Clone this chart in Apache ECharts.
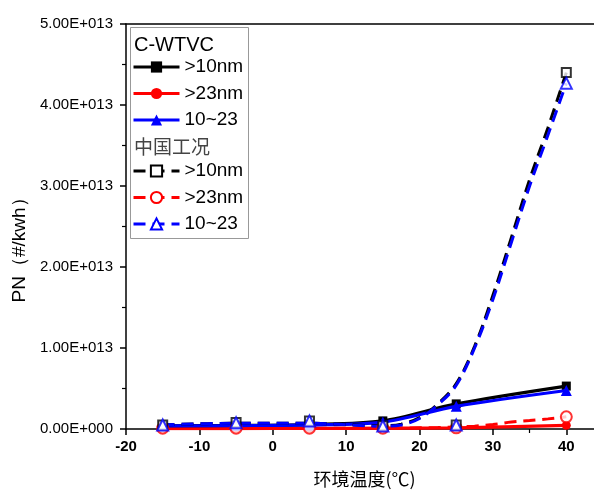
<!DOCTYPE html>
<html>
<head>
<meta charset="utf-8">
<script src="https://cdn.jsdelivr.net/npm/echarts@6/dist/echarts.min.js"></script>
<style>html,body{margin:0;padding:0;background:#fff}#c{width:594px;height:494px}</style>
</head>
<body>
<div id="c"></div>
<script>
// ---- data ----
const temps = [-15, -5, 5, 15, 25, 40];
// C-WTVC (solid lines with filled markers)
const wtvcGt10 = [0.40e12, 0.45e12, 0.55e12, 1.00e12, 3.10e12, 5.30e12];
const wtvcGt23 = [0.05e12, 0.05e12, 0.08e12, 0.10e12, 0.15e12, 0.45e12];
const wtvc10to23 = [0.38e12, 0.42e12, 0.50e12, 0.85e12, 2.80e12, 4.75e12];
// China cycle markers (hollow)
const chnGt10 = [0.50e12, 0.80e12, 1.00e12, 0.40e12, 0.50e12, 4.40e13];
const chnGt23 = [0.10e12, 0.10e12, 0.10e12, 0.10e12, 0.15e12, 1.50e12];
const chn10to23 = [0.50e12, 0.78e12, 1.00e12, 0.37e12, 0.50e12, 4.27e13];
// China cycle fitted (B-spline) dashed curves
const curveTemps = [-15, -5, 5, 15, 17.5, 20, 22.5, 25, 27.5, 30, 32.5, 35, 37.5, 40];
const curveGt10 = [0.50e12, 0.70e12, 0.70e12, 0.40e12, 0.60e12, 1.40e12, 3.10e12, 5.60e12, 1.02e13, 1.65e13, 2.36e13, 3.08e13, 3.72e13, 4.40e13];
const curveGt23 = [0.10e12, 0.10e12, 0.10e12, 0.10e12, 0.12e12, 0.15e12, 0.18e12, 0.25e12, 0.35e12, 0.55e12, 0.85e12, 1.05e12, 1.25e12, 1.50e12];
const curve10to23 = [0.50e12, 0.70e12, 0.70e12, 0.35e12, 0.50e12, 1.30e12, 3.00e12, 5.40e12, 1.00e13, 1.60e13, 2.30e13, 3.00e13, 3.63e13, 4.27e13];
const legendLabels = {a10: '>10nm', a23: '>23nm', a1023: '10~23', b10: '>10nm', b23: '>23nm', b1023: '10~23'};
const groupTitles = ['C-WTVC', '中国工况'];
const xTicksMin = -20, xTicksMax = 45, yMax = 5e13;

function pairs(xs, ys) { return xs.map((x, i) => [x, ys[i]]); }
function sci(v) {
  if (v === 0) return '0.00E+000';
  const e = Math.floor(Math.log10(v) + 1e-9);
  const m = v / Math.pow(10, e);
  return m.toFixed(2) + 'E+' + String(e).padStart(3, '0');
}

const BLACK = '#000000', RED = '#ff0000', BLUE = '#0000ff';
const dash = [12, 7];

function solid(name, color, symbol, size, ys, z) {
  return {name, type: 'line', data: pairs(temps, ys), smooth: 0.3, symbol, symbolSize: size,
    lineStyle: {color, width: 3.2}, itemStyle: {color}, z};
}
function dashed(name, color, symbol, ys, z) {
  return {name, type: 'line', data: pairs(curveTemps, ys), smooth: 0.35, symbol, symbolSize: 9, showSymbol: false,
    lineStyle: {color, width: 3, type: dash}, itemStyle: {color, borderWidth: 1.2}, z};
}
function marks(name, color, symbol, size, ys, z) {
  return {name, type: 'scatter', data: pairs(temps, ys), symbol, symbolSize: size,
    itemStyle: {color, borderColor: color, borderWidth: 1.2}, z};
}

const legendCommon = {
  orient: 'vertical', left: 132, padding: 0,
  itemWidth: 46, itemHeight: 14, itemGap: 7.5, selectedMode: false,
  lineStyle: {width: 3},
  formatter: n => legendLabels[n],
  textStyle: {fontFamily: 'Liberation Sans', fontSize: 19, lineHeight: 19, color: '#000'}
};

const chart = echarts.init(document.getElementById('c'), null, {renderer: 'canvas'});
chart.setOption({
  animation: false,
  backgroundColor: '#fff',
  grid: {left: 126, top: 24, bottom: 65, width: 477, containLabel: false, outerBoundsMode: 'none'},
  xAxis: [{
    type: 'value', min: xTicksMin, max: xTicksMax, interval: 10,
    name: '环境温度(℃)', nameLocation: 'middle', nameGap: 41,
    nameTextStyle: {fontFamily: 'Noto Sans CJK SC', fontSize: 18, color: '#000'},
    axisLine: {show: true, onZero: false, lineStyle: {color: '#000', width: 1.5}},
    axisTick: {show: true, inside: false, length: 6, lineStyle: {color: '#000', width: 1.5}},
    minorTick: {show: true, splitNumber: 2, length: 4, lineStyle: {color: '#000', width: 1.2}},
    axisLabel: {showMaxLabel: false, margin: 10, fontFamily: 'Liberation Sans', fontSize: 15, fontWeight: 'bold', color: '#000'},
    splitLine: {show: false}
  }, {
    type: 'value', position: 'top', min: xTicksMin, max: xTicksMax,
    axisLine: {show: true, onZero: false, lineStyle: {color: '#000', width: 1.5}},
    axisTick: {show: false}, axisLabel: {show: false}, splitLine: {show: false}
  }],
  yAxis: {
    type: 'value', min: 0, max: yMax, interval: 1e13,
    name: 'PN（#/kwh）', nameLocation: 'middle', nameGap: 93,
    nameTextStyle: {fontFamily: 'Liberation Sans', fontSize: 19, color: '#000', padding: [0, 38, 0, 0]},
    axisLine: {show: true, onZero: false, lineStyle: {color: '#000', width: 1.5}},
    axisTick: {show: true, inside: false, length: 6, lineStyle: {color: '#000', width: 1.5}},
    minorTick: {show: true, splitNumber: 2, length: 4, lineStyle: {color: '#000', width: 1.2}},
    axisLabel: {formatter: sci, margin: 13, fontFamily: 'Liberation Sans', fontSize: 15, color: '#000'},
    splitLine: {show: false}
  },
  legend: [
    Object.assign({}, legendCommon, {data: ['a10', 'a23', 'a1023'], top: 57.5}),
    Object.assign({}, legendCommon, {data: ['b10', 'b23', 'b1023'], top: 161.5})
  ],
  graphic: [
    {type: 'rect', left: 130, top: 27, shape: {width: 118, height: 211}, style: {fill: 'rgba(0,0,0,0)', stroke: '#999', lineWidth: 1}, z: 100},
    {type: 'text', left: 134, top: 35, style: {text: groupTitles[0], font: '20px "Liberation Sans"', fill: '#000'}, z: 100},
    {type: 'text', left: 134, top: 137, style: {text: groupTitles[1], font: '19px "Noto Sans CJK SC"', fill: '#444'}, z: 100}
  ],
  series: [
    solid('a23', RED, 'circle', 9, wtvcGt23, 2),
    dashed('b23', RED, 'emptyCircle', curveGt23, 3),
    solid('a10', BLACK, 'rect', 9, wtvcGt10, 4),
    solid('a1023', BLUE, 'triangle', 11, wtvc10to23, 5),
    dashed('b10', BLACK, 'emptyRect', curveGt10, 6),
    dashed('b1023', BLUE, 'emptyTriangle', curve10to23, 7),
    marks('m23', RED, 'emptyCircle', 11, chnGt23, 8),
    marks('m10', BLACK, 'emptyRect', 9, chnGt10, 9),
    marks('m1023', BLUE, 'emptyTriangle', 11, chn10to23, 10)
  ]
});
</script>
</body>
</html>
